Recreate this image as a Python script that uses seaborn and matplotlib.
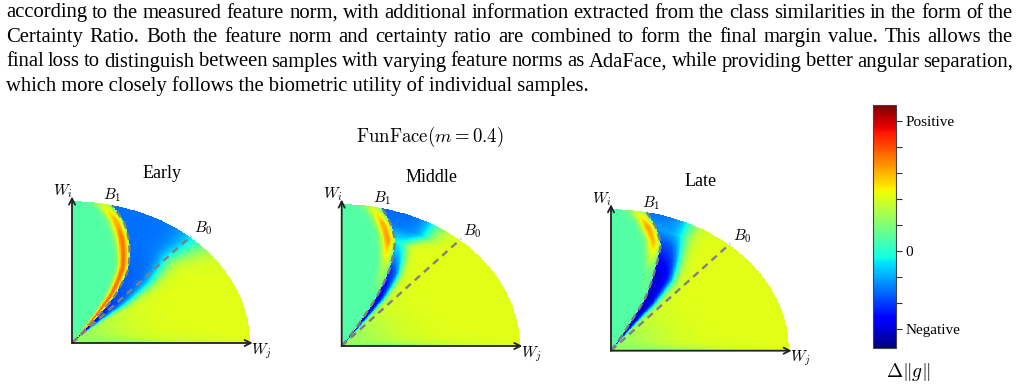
import numpy as np
import matplotlib
matplotlib.use("Agg")
import matplotlib.pyplot as plt
import seaborn as sns

plt.rcParams["font.family"] = ["Liberation Serif", "DejaVu Serif"]
plt.rcParams["mathtext.fontset"] = "cm"

W, H = 1020, 391

# text of the page
PARAGRAPH = [
    "according to the measured feature norm, with additional information extracted from the class similarities in the form of the",
    "Certainty Ratio. Both the feature norm and certainty ratio are combined to form the final margin value. This allows the",
    "final loss to distinguish between samples with varying feature norms as AdaFace, while providing better angular separation,",
    "which more closely follows the biometric utility of individual samples.",
]
SUPTITLE = r"$\mathrm{FunFace}(m = 0.4)$"
STAGES = ["Early", "Middle", "Late"]

# field description, read along the feature norm r (0..1)
R_KNOTS = [0.0, 0.2, 0.4, 0.6, 0.8, 0.9, 1.0]
B1_ANGLE = [[51, 52, 54, 58.5, 66.5, 71, 77],
            [56, 58.5, 60.5, 63.5, 68, 72, 77],
            [59, 61, 62.3, 66.2, 69.5, 73.5, 78.5]]
POS_AMP = [[2.4, 3.2, 3.2, 3.2, 3.1, 2.5, 1.4],
           [0.0, 0.0, 0.0, 1.0, 2.8, 2.5, 1.3],
           [0.0, 0.0, 0.0, 0.3, 2.4, 2.7, 1.3]]
NEG_AMP = [[-4.4, -4.1, -3.8, -3.7, -3.6, -3.6, -3.6],
           [-4.7, -4.9, -4.9, -4.2, -2.4, -3.5, -3.7],
           [-4.5, -4.9, -5.1, -5.1, -4.0, -3.2, -3.6]]
NEG_WIDTH = [[3, 7, 12, 15, 19, 25, 32],
             [3, 4, 6, 6, 5, 14, 19],
             [3, 6, 9, 11, 9, 11, 15]]
B0_ANGLE = 48.5
LEVEL_LEFT = 0.5
LEVEL_RIGHT = 2.1

CBAR_MIN, CBAR_MAX = -3.7, 5.6
CBAR_TICKS = [-3, -2, -1, 0, 1, 2, 3, 4, 5]
CBAR_LABELS = ["Negative", "", "", "0", "", "", "", "", "Positive"]

# panel origins in pixels
ORIGINS = [(72, 343), (341.7, 346), (611, 350.7)]
RX, RY = 178, 141.5
EXT, X0 = 1.1, -0.08
N = 330


def field(k, x, y):
    r = np.hypot(x, y)
    th = np.degrees(np.arctan2(y, x))
    d = th - np.interp(r, R_KNOTS, B1_ANGLE[k])
    pos = np.interp(r, R_KNOTS, POS_AMP[k])
    neg = np.interp(r, R_KNOTS, NEG_AMP[k])
    wid = np.interp(r, R_KNOTS, NEG_WIDTH[k])
    left = LEVEL_LEFT + pos * np.exp(-((d - 3.2) / 2.8) ** 2)
    soft = 0.08 * wid + 0.8
    right = LEVEL_RIGHT + neg / (1 + np.exp(-(d + wid) / soft))
    right -= 2.0 * np.exp(-th / 3) * np.exp(-(r / 0.5) ** 2) + 0.9 * np.exp(-(r / 0.3) ** 2)
    v = np.where(d >= 0, left, right)
    return v, r > 1


def to_c(v):
    return v * N / EXT


fig = plt.figure(figsize=(W / 100, H / 100), dpi=100)
fig.patch.set_facecolor("white")

cax = fig.add_axes([873.5 / W, 1 - 347.7 / H, 22.2 / W, 242.7 / H])

cells = (np.arange(N) + 0.5) * EXT / N
X, Y = np.meshgrid(cells, cells)

for k, stage in enumerate(STAGES):
    ox, oy = ORIGINS[k]
    ax = fig.add_axes([(ox + X0 * RX) / W, 1 - (oy - X0 * RY) / H,
                       (EXT - X0) * RX / W, (EXT - X0) * RY / H])
    Z, mask = field(k, X, Y)
    sns.heatmap(Z, mask=mask, cmap="jet", vmin=CBAR_MIN, vmax=CBAR_MAX,
                xticklabels=False, yticklabels=False, ax=ax,
                cbar=(k == 0), cbar_ax=cax if k == 0 else None,
                cbar_kws={"ticks": CBAR_TICKS} if k == 0 else None)
    ax.set_xlim(to_c(X0), to_c(EXT))
    ax.set_ylim(to_c(X0), to_c(EXT))
    ax.axis("off")

    # boundaries
    rr = np.linspace(0, 1, 200)
    tb = np.radians(np.interp(rr, R_KNOTS, B1_ANGLE[k]))
    ax.plot(to_c(rr * np.cos(tb)), to_c(rr * np.sin(tb)), ls=(0, (3, 2.2)),
            color="#808080", lw=1.7, clip_on=False)
    t0 = np.radians(B0_ANGLE)
    ax.plot([0, to_c(1.01 * np.cos(t0))], [0, to_c(1.01 * np.sin(t0))],
            ls=(0, (3, 2.2)), color="#808080", lw=1.7, clip_on=False)

    arrow = dict(arrowstyle="->", lw=1.3, color="#222222", shrinkA=0, shrinkB=0,
                 mutation_scale=11)
    ax.annotate("", xy=(to_c(1.015), 0), xytext=(0, 0), arrowprops=arrow,
                annotation_clip=False)
    ax.annotate("", xy=(0, to_c(1.035)), xytext=(0, 0), arrowprops=arrow,
                annotation_clip=False)

    ax.text(to_c(-0.05), to_c(1.073), r"$W_i$", ha="center", va="center", fontsize=11)
    ax.text(to_c(1.065), to_c(-0.055), r"$W_j$", ha="center", va="center", fontsize=11)
    ax.text(to_c(0.225), to_c(1.045), r"$B_1$", ha="center", va="center", fontsize=11)
    ax.text(to_c(0.735), to_c(0.81), r"$B_0$", ha="center", va="center", fontsize=11)

    fig.text((ox + 90) / W, 1 - (oy - 169) / H, stage, ha="center", va="center",
             fontsize=13)

fig.text(430 / W, 1 - 137 / H, SUPTITLE, ha="center", va="center", fontsize=13.5)

cbar = fig.axes[1].collections[0].colorbar
cbar.set_ticklabels(CBAR_LABELS)
cbar.outline.set_linewidth(0.8)
cbar.outline.set_edgecolor("#444444")
cax.tick_params(length=4, width=0.8, colors="#333333", labelsize=11, pad=3,
                labelcolor="black")
fig.text(908 / W, 1 - 372 / H, r"$\Delta\|g\|$", ha="center", va="center",
         fontsize=14)

# justified paragraph
renderer = fig.canvas.get_renderer()
left_px, right_px = 6, 1013
ref = 13.0
fits = []
for line in PARAGRAPH[:-1]:
    words = line.split()
    tw = 0
    for w in words:
        t = fig.text(0, 0, w, fontsize=ref)
        tw += t.get_window_extent(renderer).width
        t.remove()
    # room for a thin inter-word gap of 0.2 em
    em = ref * 100 / 72
    fits.append(ref * (right_px - left_px) / (tw + 0.2 * em * (len(words) - 1)))
fs = min(fits)

baselines = [17.5, 42, 66.5, 91]
for i, line in enumerate(PARAGRAPH):
    if i == len(PARAGRAPH) - 1:
        fig.text(left_px / W, 1 - baselines[i] / H, line, fontsize=fs,
                 va="baseline", ha="left")
        continue
    words = line.split()
    texts = [fig.text(0, 1 - baselines[i] / H, w, fontsize=fs, va="baseline", ha="left")
             for w in words]
    widths = [t.get_window_extent(renderer).width for t in texts]
    gap = (right_px - left_px - sum(widths)) / (len(words) - 1)
    x = left_px
    for t, w in zip(texts, widths):
        t.set_x(x / W)
        x += w + gap

fig.savefig("out.png", dpi=100, facecolor="white")
